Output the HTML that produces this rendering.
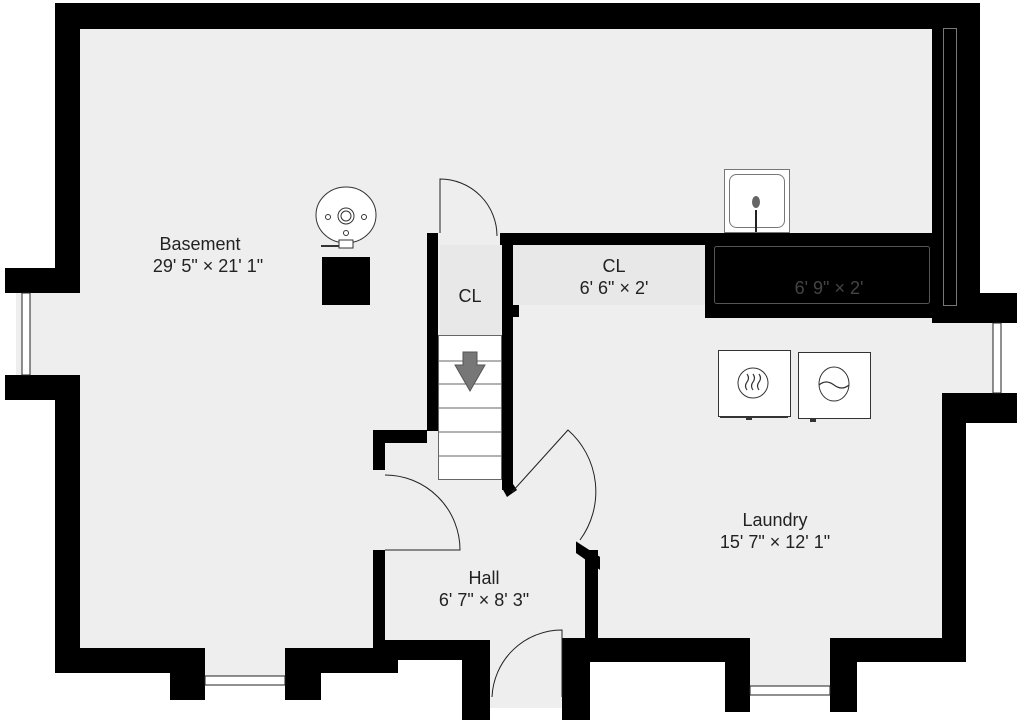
<!DOCTYPE html>
<html><head><meta charset="utf-8"><style>
html,body{margin:0;padding:0;background:#fff;}
svg{display:block;}
text{font-family:"Liberation Sans",sans-serif;fill:#222;text-anchor:middle;}
</style></head><body>
<svg width="1024" height="728" viewBox="0 0 1024 728" xmlns="http://www.w3.org/2000/svg">
<rect width="1024" height="728" fill="#fff"/>
<g fill="#eeeeee">
<rect x="56" y="28" width="880" height="644"/>
<rect x="900" y="318" width="66" height="322"/>
<rect x="930" y="318" width="66" height="80"/>
<rect x="16" y="293" width="44" height="82"/>
<rect x="196" y="640" width="100" height="38"/>
<rect x="750" y="630" width="80" height="60"/>
<rect x="490" y="630" width="72" height="78"/>
</g>
<g fill="#fff">
<rect x="385" y="660" width="77" height="68"/>
<rect x="590" y="662" width="135" height="66"/>
<rect x="857" y="662" width="110" height="66"/>
</g>
<g fill="#000">
<rect x="55" y="3" width="925" height="26"/>
<rect x="932" y="3" width="48" height="315"/>
<rect x="705" y="233" width="227" height="85"/>
<rect x="932" y="293" width="85" height="30"/>
<rect x="942" y="393" width="75" height="30"/>
<rect x="942" y="393" width="24" height="269"/>
<rect x="830" y="638" width="136" height="24"/>
<rect x="830" y="638" width="27" height="74"/>
<rect x="725" y="638" width="25" height="74"/>
<rect x="562" y="638" width="188" height="24"/>
<rect x="562" y="638" width="28" height="82"/>
<rect x="585" y="550" width="13" height="90"/>
<rect x="462" y="640" width="28" height="80"/>
<rect x="373" y="640" width="117" height="20"/>
<rect x="373" y="550" width="12" height="110"/>
<rect x="296" y="648" width="102" height="25"/>
<rect x="285" y="648" width="36" height="52"/>
<rect x="170" y="648" width="35" height="52"/>
<rect x="55" y="648" width="141" height="25"/>
<rect x="55" y="375" width="25" height="298"/>
<rect x="5" y="375" width="75" height="25"/>
<rect x="5" y="268" width="75" height="25"/>
<rect x="55" y="3" width="25" height="290"/>
<rect x="500" y="233" width="205" height="12"/>
<rect x="502" y="233" width="11" height="257"/>
<rect x="513" y="305" width="6" height="12"/>
<rect x="427" y="233" width="11" height="198"/>
<rect x="373" y="430" width="54" height="13"/>
<rect x="373" y="430" width="12" height="40"/>
<rect x="322" y="257" width="48" height="48"/>
</g>
<polygon points="502,488 513,484 517,490 507,497" fill="#000"/>
<polygon points="578,545 598,558 598,566 578,552" fill="#000" stroke="#000" stroke-width="4"/>
<rect x="943.5" y="28.5" width="13" height="277" fill="none" stroke="#777" stroke-width="1"/>
<rect x="714.5" y="246.5" width="215" height="57" rx="2" fill="none" stroke="#555" stroke-width="1"/>
<rect x="513" y="245" width="192" height="60" fill="#e8e8e8"/>
<rect x="440" y="245" width="62" height="90" fill="#e8e8e8"/>
<g stroke="#222" stroke-width="1" fill="#fff">
<rect x="22" y="293" width="8" height="82"/>
<rect x="993" y="323" width="8" height="70"/>
<rect x="205" y="676" width="80" height="9"/>
<rect x="750" y="686" width="80" height="9"/>
</g>
<rect x="438.5" y="335.5" width="63" height="144" fill="#fff" stroke="#666"/>
<g stroke="#666"><line x1="438" y1="361" x2="502" y2="361"/><line x1="438" y1="384" x2="502" y2="384"/><line x1="438" y1="408" x2="502" y2="408"/><line x1="438" y1="432" x2="502" y2="432"/><line x1="438" y1="456" x2="502" y2="456"/></g>
<polygon points="463,352 477,352 477,365 485,365 470,391 455,365 463,365" fill="#777" stroke="#555"/>
<g fill="none" stroke="#222" stroke-width="1">
<path d="M440,233 L440,179 A57,57 0 0 1 497,236" fill="#eee"/>
<path d="M385,550 L460,550 A75,75 0 0 0 385,475"/>
<path d="M512,492 L568,430 A82,82 0 0 1 580,540"/>
<path d="M562,697 L562,630 A70,70 0 0 0 492,697"/>
</g>
<g stroke="#333" fill="#fff" stroke-width="1">
<ellipse cx="346" cy="215" rx="30" ry="28"/>
<circle cx="346" cy="216" r="8"/><circle cx="346" cy="216" r="5"/>
<circle cx="328" cy="217" r="2.5"/><circle cx="364" cy="217" r="2.5"/><circle cx="346" cy="233" r="2.5"/>
<rect x="339" y="240" width="14" height="8"/>
<line x1="321" y1="246" x2="339" y2="246" stroke-width="2"/>
</g>
<rect x="724.5" y="169.5" width="65" height="63" fill="#fff" stroke="#777"/>
<rect x="729.5" y="174.5" width="55" height="53" rx="7" fill="#fff" stroke="#777"/>
<ellipse cx="756" cy="202" rx="4" ry="6" fill="#666"/>
<line x1="756" y1="210" x2="756" y2="232" stroke="#222" stroke-width="2"/>
<g stroke="#333" fill="#fff">
<rect x="718.5" y="350.5" width="72" height="66"/>
<rect x="798.5" y="352.5" width="72" height="66"/>
<circle cx="753" cy="383" r="15" fill="none"/>
<ellipse cx="834" cy="384" rx="15" ry="17" fill="none"/>
</g>
<g stroke="#333" fill="none" stroke-width="1.2">
<path d="M747,374 q3,4 0,8 q-3,4 0,8"/><path d="M753,374 q3,4 0,8 q-3,4 0,8"/><path d="M759,374 q3,4 0,8 q-3,4 0,8"/>
<path d="M819,385 q7,-6 15,0 q8,6 15,0"/>
</g>
<g fill="#333"><rect x="720" y="416" width="68" height="2"/><rect x="746" y="416" width="6" height="4"/><rect x="800" y="418" width="68" height="1"/><rect x="810" y="418" width="6" height="4"/></g>
<text x="200" y="250" font-size="18">Basement</text>
<text x="208" y="272" font-size="18">29' 5" × 21' 1"</text>
<text x="470" y="302" font-size="18">CL</text>
<text x="614" y="272" font-size="18">CL</text>
<text x="614" y="294" font-size="18">6' 6" × 2'</text>
<text x="829" y="294" font-size="18" style="fill:#444">6' 9" × 2'</text>
<text x="775" y="526" font-size="18">Laundry</text>
<text x="775" y="548" font-size="18">15' 7" × 12' 1"</text>
<text x="484" y="584" font-size="18">Hall</text>
<text x="484" y="606" font-size="18">6' 7" × 8' 3"</text>
</svg>
</body></html>
